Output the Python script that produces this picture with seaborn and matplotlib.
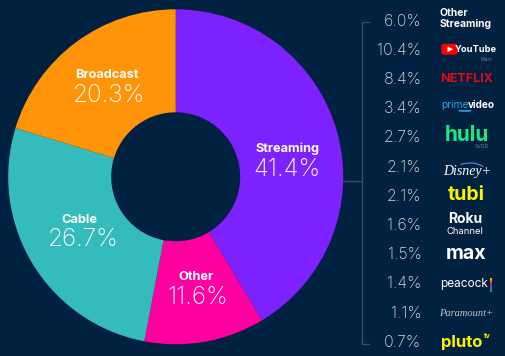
import numpy as np
import seaborn as sns
import matplotlib
matplotlib.use('Agg')
import matplotlib.pyplot as plt
from matplotlib.patches import FancyBboxPatch, Polygon, Arc, Rectangle

# main donut
categories = ['Streaming', 'Other', 'Cable', 'Broadcast']
shares = [41.4, 11.6, 26.7, 20.3]
colors = ['#7D22FF', '#FF00A0', '#34BBBB', '#FF9408']

# streaming breakdown
platforms = ['Other Streaming', 'YouTube', 'Netflix', 'Prime Video', 'Hulu', 'Disney+',
             'Tubi', 'Roku Channel', 'Max', 'Peacock', 'Paramount+', 'Pluto TV']
platform_shares = [6.0, 10.4, 8.4, 3.4, 2.7, 2.1, 2.1, 1.6, 1.5, 1.4, 1.1, 0.7]

BG = '#00213F'
LINE = '#3A4A6E'
GREY = '#D8DBE0'

sns.set_theme(style='white', rc={'figure.facecolor': BG, 'axes.facecolor': BG, 'savefig.facecolor': BG})
plt.rcParams['font.family'] = ['Inter', 'DejaVu Sans']

fig = plt.figure(figsize=(5.06, 3.56), dpi=100)
ax = fig.add_axes([0, 0, 1, 1])

# donut, 0-356 y axis runs up so flip the pixel y when placing things
H = 356
def Y(y):
    return H - y

ax.pie(shares, colors=sns.color_palette(colors), startangle=90, counterclock=False,
       center=(175.7, Y(176.8)), radius=167.5, frame=True,
       wedgeprops=dict(width=103, linewidth=0))
ax.set_xlim(0, 506)
ax.set_ylim(0, H)
ax.set_aspect('equal')
ax.axis('off')

# labels inside slices
label_pos = [(288, 149, 287, 170), (196, 277, 198, 298), (79, 220, 83, 240), (107, 75, 109, 95)]
for name, val, (x1, y1, x2, y2) in zip(categories, shares, label_pos):
    ax.text(x1, Y(y1), name, color='white', fontsize=9.2, fontweight='bold', ha='center', va='center')
    ax.text(x2, Y(y2), f'{val:.1f}%', color='white', fontsize=17.5, fontweight='light', ha='center', va='center')

# bracket
ax.plot([369, 362, 362, 369], [Y(22), Y(22), Y(344), Y(344)], color=LINE, lw=1)
ax.plot([343, 362], [Y(181), Y(181)], color=LINE, lw=1)

# percent column
rows = [21 + 29.2 * i for i in range(len(platforms))]
for r, val in zip(rows, platform_shares):
    ax.text(421.5, Y(r), f'{val:.1f}%', color=GREY, fontsize=11.5, fontweight='light', ha='right', va='center')

SERIF = ['Liberation Serif', 'DejaVu Serif']

def t(x, y, s, color='white', size=8, weight='bold', ha='center', family=None, **kw):
    ax.text(x, Y(y), s, color=color, fontsize=size, fontweight=weight, ha=ha, va='center',
            family=family if family else ['Inter', 'DejaVu Sans'], **kw)

# Other Streaming
t(440, 13, 'Other', size=7.4, ha='left')
t(440, 24, 'Streaming', size=7.4, ha='left')

# YouTube
ax.add_patch(FancyBboxPatch((442, Y(54)), 15, 9.5, boxstyle='round,pad=0,rounding_size=2', fc='#FF0000', ec='#FF0000', lw=1))
ax.add_patch(Polygon([(447.5, Y(46.3)), (447.5, Y(52.3)), (453, Y(49.3))], fc='white', ec='none'))
t(476, 49.5, 'YouTube', size=6.7)
t(486, 59.5, 'Main', color='#6F7C92', size=3.6, weight='normal')

# Netflix
t(466.5, 79, 'NETFLIX', color='#E50914', size=9)

# Prime video
t(441, 105, 'prime', color='#2AA8E0', size=7.4, ha='left', weight='normal')
t(468, 105, 'video', size=7.2, ha='left')
ax.add_patch(Arc((465, Y(106)), 28, 10, theta1=215, theta2=325, color='#2AA8E0', lw=1.2))

# Hulu
t(467, 135, 'hulu', color='#1CE783', size=15)
t(482, 147, 'SVOD', color='#6F7C92', size=3.6, weight='normal')

# Disney+
t(467, 172, 'Disney+', size=10, family=SERIF, style='italic', weight='normal')
ax.add_patch(Arc((470, Y(176)), 38, 26, theta1=35, theta2=130, color='#5B8FD0', lw=0.8))

# Tubi
t(466, 195, 'tubi', color='#FFF200', size=14)

# Roku
t(465, 219, 'Roku', size=10)
t(465, 231, 'Channel', size=6.8, weight='normal')

# Max
t(466, 254, 'max', size=14)

# Peacock
t(464.5, 284, 'peacock', size=8.5, weight='normal')
for i, c in enumerate(['#F5B700', '#F07A1A', '#E0245E', '#7A3FC0', '#2F6FD0', '#2FA84F']):
    ax.add_patch(Rectangle((490.5, Y(277.5 + 2.4 * (i + 1))), 1.8, 2.4, fc=c, ec='none'))

# Paramount+
t(466, 313, 'Paramount+', color='#C4C8D0', size=7.5, family=SERIF, style='italic', weight='normal')

# Pluto
t(441, 343, 'pluto', color='#FFF200', size=12, ha='left')
t(484, 336, 'tv', color='#FFF200', size=5, ha='left')

fig.savefig('out.png', dpi=100)
